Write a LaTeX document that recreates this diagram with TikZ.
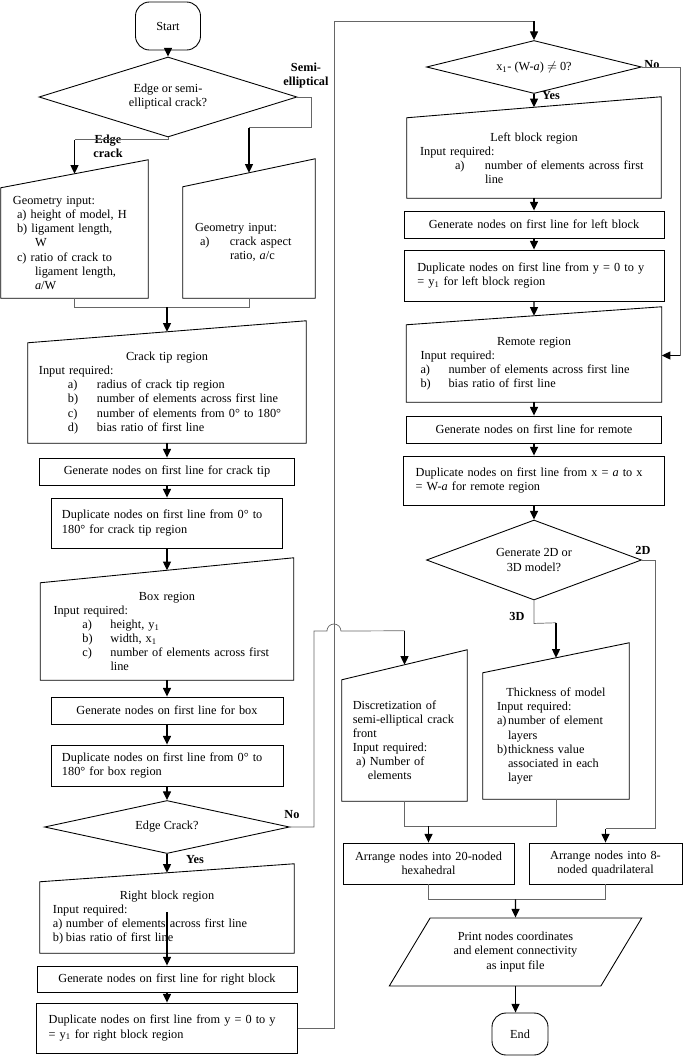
\documentclass[tikz,border=0pt]{standalone}
\usepackage{fontspec}
\setmainfont{Liberation Serif}
\usepackage{tikz}
\usetikzlibrary{arrows.meta,calc,shapes.geometric}
\newcommand{\itm}[3]{\hspace*{#1}\makebox[#2][l]{#3}}
\newcommand{\boxhead}[1]{\makebox[\hsize]{#1}\\}

\begin{document}
\begin{tikzpicture}[x=0.3mm,y=-0.3mm,
    font=\fontsize{10.5}{12}\selectfont,
    proc/.style={draw,line width=0.75pt,inner sep=0pt,align=left},
    inbox/.style={inner sep=0pt,align=left},
    term/.style={draw,line width=0.75pt,rounded corners=12pt,inner sep=0pt},
    dec/.style={draw,diamond,line width=0.75pt,inner sep=0pt,align=center},
    io/.style={draw,trapezium,trapezium left angle=53,trapezium right angle=127,
        trapezium stretches=true,line width=0.75pt,inner sep=0pt,align=center},
    flow/.style={-{Triangle[length=2.6mm,width=2.4mm]},line width=1pt},
    link/.style={draw=black!60,line width=0.6pt},
    lab/.style={font=\fontsize{10.5}{12}\selectfont\bfseries,align=center}]
\useasboundingbox (0,0) rectangle (685,1056);

% left column
\node[term,minimum width=19.5mm,minimum height=14.4mm] (start) at (168,26) {Start};
\node[dec,aspect=3.2,minimum width=77.4mm,minimum height=24mm] (dec1) at (168,97) {Edge or semi-\\elliptical crack?};
\node[inbox,text width=36.9mm,minimum width=44.1mm,minimum height=33mm] (geoe) at (74.5,243)
    {Geometry input:\\
     \hspace*{1.2mm}a) height of model, H\\
     \hspace*{1.2mm}b) ligament length,\\
     \hspace*{6.6mm}W\\
     \hspace*{1.2mm}c) ratio of crack to\\
     \hspace*{6.6mm}ligament length,\\
     \hspace*{6.6mm}\textit{a}/W};
\node[inbox,text width=32.4mm,minimum width=39.6mm,minimum height=33.3mm] (geos) at (249,242.5)
    {Geometry input:\\
     \itm{1.5mm}{9mm}{a)}crack aspect\\
     \hspace*{10.5mm}ratio, \textit{a}/c};
\node[inbox,text width=76.8mm,minimum width=83.4mm,minimum height=30mm] (ct) at (167,393)
    {\boxhead{Crack tip region}
     Input required:\\
     \itm{8.7mm}{8.7mm}{a)}radius of crack tip region\\
     \itm{8.7mm}{8.7mm}{b)}number of elements across first line\\
     \itm{8.7mm}{8.7mm}{c)}number of elements from 0° to 180°\\
     \itm{8.7mm}{8.7mm}{d)}bias ratio of first line};
\node[proc,align=center,text width=70mm,minimum width=76.5mm,minimum height=8.1mm] (gct) at (167,471.5)
    {Generate nodes on first line for crack tip};
\node[proc,text width=63mm,minimum width=69.3mm,minimum height=15mm] (dct) at (167,523)
    {Duplicate nodes on first line from 0° to\\180° for crack tip region};
\node[inbox,text width=68.1mm,minimum width=75.9mm,minimum height=29.1mm] (box) at (167,631.5)
    {\boxhead{Box region}
     Input required:\\
     \itm{8.7mm}{8.4mm}{a)}height, y\textsubscript{1}\\
     \itm{8.7mm}{8.4mm}{b)}width, x\textsubscript{1}\\
     \itm{8.7mm}{8.4mm}{c)}number of elements across first\\
     \hspace*{17.1mm}line};
\node[proc,align=center,text width=64mm,minimum width=69.6mm,minimum height=8.1mm] (gbox) at (167,710.5)
    {Generate nodes on first line for box};
\node[proc,text width=63mm,minimum width=69.6mm,minimum height=12.3mm] (dbox) at (167,765.5)
    {Duplicate nodes on first line from 0° to\\180° for box region};
\node[dec,aspect=4.6,minimum width=73.5mm,minimum height=15.9mm] (dec2) at (167,827) {Edge Crack?};
\node[inbox,text width=68.4mm,minimum width=76.2mm,minimum height=21.3mm] (rb) at (167,917.5)
    {\boxhead{Right block region}
     Input required:\\
     \itm{0mm}{3.9mm}{a)}number of elements across first line\\
     \itm{0mm}{3.9mm}{b)}bias ratio of first line};
\node[proc,align=center,text width=72mm,minimum width=78mm,minimum height=7.8mm] (grb) at (167,979)
    {Generate nodes on first line for right block};
\node[proc,text width=71mm,minimum width=78.3mm,minimum height=15mm] (drb) at (167,1028)
    {Duplicate nodes on first line from y = 0 to y\\= y\textsubscript{1} for right block region};

% right column
\node[dec,aspect=4,minimum width=64.5mm,minimum height=15.9mm] (dec3) at (534,67)
    {x\textsubscript{1}- (W-\textit{a}) $\neq$ 0?};
\node[inbox,text width=68.4mm,minimum width=76.2mm,minimum height=24mm] (lb) at (534,158)
    {\boxhead{Left block region}
     Input required:\\
     \itm{10.5mm}{9mm}{a)}number of elements across first\\
     \hspace*{19.5mm}line};
\node[proc,align=center,text width=72mm,minimum width=78mm,minimum height=8.1mm] (glb) at (534,224.5)
    {Generate nodes on first line for left block};
\node[proc,text width=70mm,minimum width=78mm,minimum height=15.3mm] (dlb) at (534,275.5)
    {Duplicate nodes on first line from y = 0 to y\\= y\textsubscript{1} for left block region};
\node[inbox,text width=68.1mm,minimum width=76.5mm,minimum height=23.1mm] (rem) at (534,363.5)
    {\boxhead{Remote region}
     Input required:\\
     \itm{0mm}{8.4mm}{a)}number of elements across first line\\
     \itm{0mm}{8.4mm}{b)}bias ratio of first line};
\node[proc,align=center,text width=70mm,minimum width=76.5mm,minimum height=8.1mm] (grem) at (534,429.5)
    {Generate nodes on first line for remote};
\node[proc,text width=71mm,minimum width=78.3mm,minimum height=14.7mm] (drem) at (534,480.5)
    {Duplicate nodes on first line from x = \textit{a} to x\\= W-\textit{a} for remote region};
\node[dec,aspect=2.7,minimum width=64.5mm,minimum height=24mm] (dec4) at (534,560) {Generate 2D or\\3D model?};
\node[inbox,text width=31mm,minimum width=37.5mm,minimum height=36.3mm] (disc) at (404.5,740.5)
    {Discretization of\\
     semi-elliptical crack\\
     front\\
     Input required:\\
     \hspace*{1mm}a) Number of\\
     \hspace*{4.5mm}elements};
\node[inbox,text width=35.4mm,minimum width=43.8mm,minimum height=37.8mm] (thick) at (556,736)
    {\boxhead{Thickness of model}
     Input required:\\
     \itm{0mm}{3.3mm}{a)}number of element\\
     \hspace*{3.3mm}layers\\
     \itm{0mm}{3.3mm}{b)}thickness value\\
     \hspace*{3.3mm}associated in each\\
     \hspace*{3.3mm}layer};
\node[proc,align=center,text width=48mm,minimum width=51.3mm,minimum height=12.3mm] (arr20) at (428.5,863.5)
    {Arrange nodes into 20-noded\\hexahedral};
\node[proc,align=center,text width=42mm,minimum width=45.9mm,minimum height=12.3mm] (arr8) at (605.5,863.5)
    {Arrange nodes into 8-\\noded quadrilateral};
\node[io,minimum width=75.9mm,minimum height=20.4mm] (print) at (515.5,952)
    {Print nodes coordinates\\and element connectivity\\as input file};
\node[term,minimum width=16.8mm,minimum height=12.6mm] (end) at (520,1034) {End};

% branch labels
\node[lab] (semil) at (306,76) {Semi-\\elliptical};
\node[lab] (edgel) at (108,146) {Edge\\crack};
\node[lab] (no1) at (292,815) {No};
\node[lab] (yes1) at (195,860) {Yes};
\node[lab] (no2) at (652,65) {No};
\node[lab] (yes2) at (551,96) {Yes};
\node[lab] (twod) at (643,550) {2D};
\node[lab] (threed) at (517,616) {3D};

% manual input outlines
\foreach \n/\d in {geoe/8.4,geos/8.4,ct/6.6,box/7.5,rb/5.4,lb/6.3,rem/5.4,disc/9,thick/9}{
  \draw[line width=0.75pt] (\n.south west) -- (\n.north west) -- ([yshift=\d*1mm]\n.north east)
      -- (\n.south east) -- cycle;
  \coordinate (\n-in) at ($(\n.north west)!.5!([yshift=\d*1mm]\n.north east)$);
}

% connectors, left column
\draw[flow] (start) -- (dec1);
\draw[link] (dec1.east) -- ++(14,0) |- ([yshift=13.5mm]geos-in) coordinate (s1);
\draw[flow] (s1) -- (geos-in);
\draw[link] (dec1.south) |- ([yshift=10.2mm]geoe-in) coordinate (e1);
\draw[flow] (e1) -- (geoe-in);
\draw[link] (geoe.south) -- ++(0,9) coordinate (m1) -| (geos.south);
\draw[flow] (m1 -| ct-in) -- (ct-in);
\draw[flow] (ct) -- (gct);
\draw[flow] (gct) -- (dct);
\draw[flow] (dct) -- (box-in);
\draw[flow] (box) -- (gbox);
\draw[flow] (gbox) -- (dbox);
\draw[flow] (dbox) -- (dec2);
\draw[flow] (dec2) -- (rb-in);
\draw[flow] ([yshift=12.3mm]rb.south) -- (grb);
\draw[flow] (grb) -- (drb);

% loop over to the right column, and the No branch with its jump
\draw[link] (drb.east) -- ++(36,0) coordinate (l1) |- ([yshift=5.7mm]dec3.north) coordinate (l2);
\draw[flow] (l2) -- (dec3);
\draw[link] (dec2.east) -- ++(24,0) -- ++(0,-196) -- ++(13,0)
    arc[start angle=180,end angle=360,radius=7] -- ([yshift=10.2mm]disc-in) coordinate (n1);
\draw[flow] (n1) -- (disc-in);

% connectors, right column
\draw[flow] (dec3) -- (lb-in);
\draw[link] (dec3.east) -- ++(38,0) |- ([shift={(5.4mm,2.4mm)}]rem.east) coordinate (r1);
\draw[flow] (r1) -- ([yshift=2.4mm]rem.east);
\draw[flow] (lb) -- (glb);
\draw[flow] (glb) -- (dlb);
\draw[flow] (dlb) -- (rem-in);
\draw[flow] (rem) -- (grem);
\draw[flow] (grem) -- (drem);
\draw[flow] (drem) -- (dec4);
\draw[link] (dec4.east) -- ++(13,0) |- ([yshift=4.2mm]arr8.north) coordinate (d1);
\draw[flow] (d1) -- (arr8);
\draw[link] (dec4.south) -- ++(0,23) -- ([yshift=10.5mm]thick-in) coordinate (d2);
\draw[flow] (d2) -- (thick-in);
\draw[link] (disc.south) -- ++(0,25) coordinate (m2) -| (thick.south);
\draw[flow] (m2 -| arr20) -- (arr20);
\draw[link] (arr20.south) -- ++(0,15) coordinate (m3) -| (arr8.south);
\draw[flow] (m3 -| print) -- (print);
\draw[flow] (print.south) -- (print.south |- end.north);
\end{tikzpicture}
\end{document}
